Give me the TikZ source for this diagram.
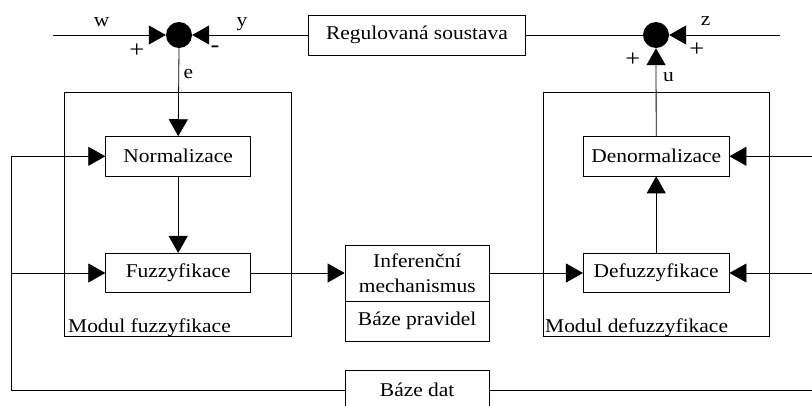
\documentclass[tikz,border=0pt]{standalone}
\usepackage{fontspec}
\setmainfont{Liberation Serif}[FakeStretch=1.1]
\usetikzlibrary{arrows.meta}
\begin{document}
\begin{tikzpicture}[x=1pt,y=-1pt,
  every node/.style={font=\fontsize{19.5}{25}\selectfont, inner sep=0pt},
  blk/.style={draw, line width=0.8pt, rectangle},
  conn/.style={line width=0.8pt},
  arr/.style={conn, -{Triangle[length=17pt,width=19pt]}},
  sumpt/.style={circle, fill=black, minimum size=26pt},
  sign/.style={font=\fontsize{24}{24}\selectfont}
]
\path[use as bounding box] (0,0) rectangle (812,405);
\clip (0,0) rectangle (812,405);
\fill[white] (0,0) rectangle (812,405);

% module frames
\node[blk, minimum width=227.4pt, minimum height=244pt] (modf) at (178,214.7) {};
\node[blk, minimum width=226pt, minimum height=244pt] (modd) at (656.3,214.7) {};
\node[anchor=base west] (modfl) at (68,332) {Modul fuzzyfikace};
\node[anchor=base west] (moddl) at (545,332) {Modul defuzzyfikace};

% blocks
\node[blk, minimum width=217.4pt, minimum height=40pt] (reg) at (417,35) {Regulovaná soustava};
\node[blk, minimum width=145pt, minimum height=39.3pt] (norm) at (178.2,156.3) {Normalizace};
\node[blk, minimum width=145pt, minimum height=39.3pt] (fuzz) at (178.2,273) {Fuzzyfikace};
\node[blk, minimum width=145.7pt, minimum height=39.3pt] (denorm) at (656.2,156.3) {Denormalizace};
\node[blk, minimum width=145.7pt, minimum height=39.3pt] (defuzz) at (656.2,273) {Defuzzyfikace};
\node[blk, minimum width=144.3pt, minimum height=56pt, align=center] (inf) at (417.2,273) {Inferenční\\mechanismus};
\node[blk, minimum width=144.3pt, minimum height=40pt] (rules) at (417.2,321) {Báze pravidel};
\node[blk, minimum width=144.3pt, minimum height=40pt] (dat) at (417.2,390) {Báze dat};

% summing points
\node[sumpt] (s1) at (179,35) {};
\node[sumpt] (s2) at (656,35) {};

% free ends
\coordinate (win) at (53,35);
\coordinate (zin) at (780,35);
\coordinate (lfb) at (11.7,390);
\coordinate (lfn) at (11.7,156.3);
\coordinate (lff) at (11.7,273);
\coordinate (rn) at (812,156.3);
\coordinate (rf) at (812,273);
\coordinate (rd) at (812,390);

% connectors
\draw[arr] (win) -- (s1.west);
\draw[arr] (reg.west) -- (s1.east);
\draw[arr] (s1.south) -- (norm.north);
\draw[arr] (norm.south) -- (fuzz.north);
\draw[conn] (dat.west) -- (lfb) -- (lfn);
\draw[arr] (lfn) -- (norm.west);
\draw[arr] (lff) -- (fuzz.west);
\draw[arr] (fuzz.east) -- (inf.west);
\draw[arr] (inf.east) -- (defuzz.west);
\draw[arr] (defuzz.north) -- (denorm.south);
\draw[arr] (denorm.north) -- (s2.south);
\draw[conn] (reg.east) -- (s2.west);
\draw[arr] (zin) -- (s2.east);
\draw[arr] (rn) -- (denorm.east);
\draw[arr] (rf) -- (defuzz.east);
\draw[conn] (dat.east) -- (rd);

% signal labels
\node[anchor=base] (lw) at (101.7,26.7) {w};
\node[anchor=base] (ly) at (242,26.7) {y};
\node[anchor=base] (le) at (188.5,78.3) {e};
\node[anchor=base] (lz) at (705.7,25.7) {z};
\node[anchor=base] (lu) at (668.5,81.7) {u};
\node[sign] (p1) at (136.7,50.7) {+};
\node[sign] (m1) at (215,49.5) {-};
\node[sign] (p2) at (696.7,50) {+};
\node[sign] (p3) at (632.7,60) {+};
\end{tikzpicture}
\end{document}
